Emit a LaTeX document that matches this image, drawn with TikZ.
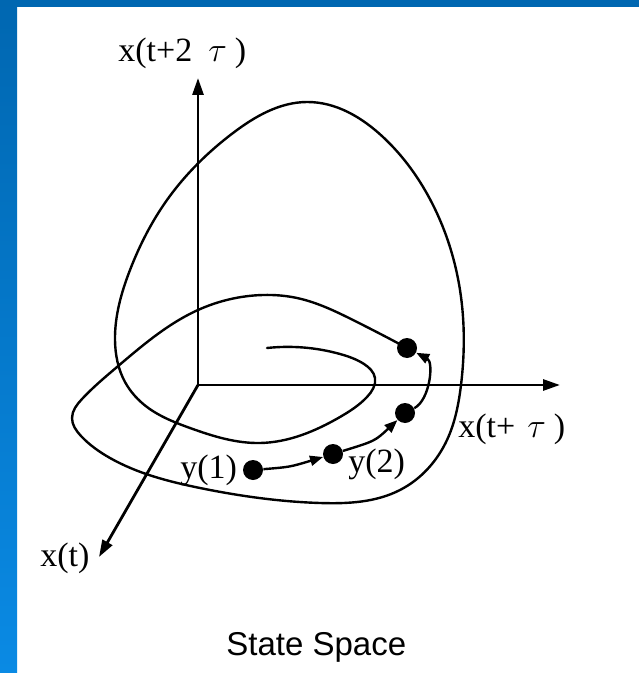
\documentclass[tikz,border=0pt]{standalone}
\usepackage{fontspec}
\setmainfont{Liberation Serif}
\newfontfamily\capfont{Liberation Sans}
\usetikzlibrary{arrows.meta,hobby}
\definecolor{bandtop}{HTML}{0067B1}
\definecolor{bandbot}{HTML}{0A8AE4}
\begin{document}
\begin{tikzpicture}[x=0.5pt,y=-0.5pt,
  curve/.style={line width=1.2pt, line join=round, line cap=round},
  axis/.style={line width=1.4pt, -{Triangle[length=8.5pt,width=5.5pt]}},
  traj/.style={line width=1.2pt, -{Triangle[length=6.5pt,width=5pt]}},
  dot/.style={circle, fill=black, inner sep=0pt, minimum size=10pt},
  lbl/.style={inner sep=0pt, font=\fontsize{17}{20}\selectfont},
]
\useasboundingbox (0,0) rectangle (639,673);
\fill[white] (0,0) rectangle (639,673);
\shade[top color=bandtop, bottom color=bandbot] (0,0) rectangle (17,673);
\fill[bandtop] (0,0) rectangle (639,7);

% axes
\coordinate (o) at (198,385);
\coordinate (ztip) at (198,78);
\coordinate (ytip) at (560,385);
\coordinate (xtip) at (99,557);
\draw[axis] (o) -- (ztip);
\draw[axis] (o) -- (ytip);
\draw[axis] (o) -- (xtip);

% attractor curve
\draw[curve, use Hobby shortcut]
 (407,348) .. (353,320) .. (297,298) .. (263,295) .. (198,310) .. (117,367)
 .. (82,399) .. (72,418) .. (81,436) .. (110,458) .. (200,488) .. (320,503)
 .. (400,490) .. (447,440) .. (461,385) .. (460,290) .. (433,205) .. (383,137)
 .. (307,102) .. (233,133) .. (167,200) .. (130,270) .. (115,340) .. (125,382)
 .. (147,407) .. (190,428) .. (260,443) .. (340,417) .. (367,397) .. (375,378)
 .. (364,364) .. (340,354) .. (267,348);

% points
\node[dot] (d1) at (253,470) {};
\node[dot] (d2) at (333,454) {};
\node[dot] (d3) at (405,413) {};
\node[dot] (d4) at (407,348) {};
\draw[traj] (d1) .. controls (290,467) .. (d2);
\draw[traj] (d2) .. controls (375,441) .. (d3);
\draw[traj] (d3) .. controls (430,400) and (434,362) .. (d4);

% labels
\node[lbl, anchor=base west] (lz) at (118,62) {x(t+2\hspace{8pt}$\tau$\hspace{4pt})};
\node[lbl, anchor=base west] (ly) at (458,437) {x(t+\hspace{6pt}$\tau$\hspace{4pt})};
\node[lbl, anchor=base west] (lx) at (40,566) {x(t)};
\node[lbl, anchor=base west] (l1) at (180,478) {y(1)};
\node[lbl, anchor=base west] (l2) at (348,472) {y(2)};
\node[anchor=base west, inner sep=0pt, font=\capfont\fontsize{16.5}{20}\selectfont] (title) at (226,655) {State Space};
\end{tikzpicture}
\end{document}
